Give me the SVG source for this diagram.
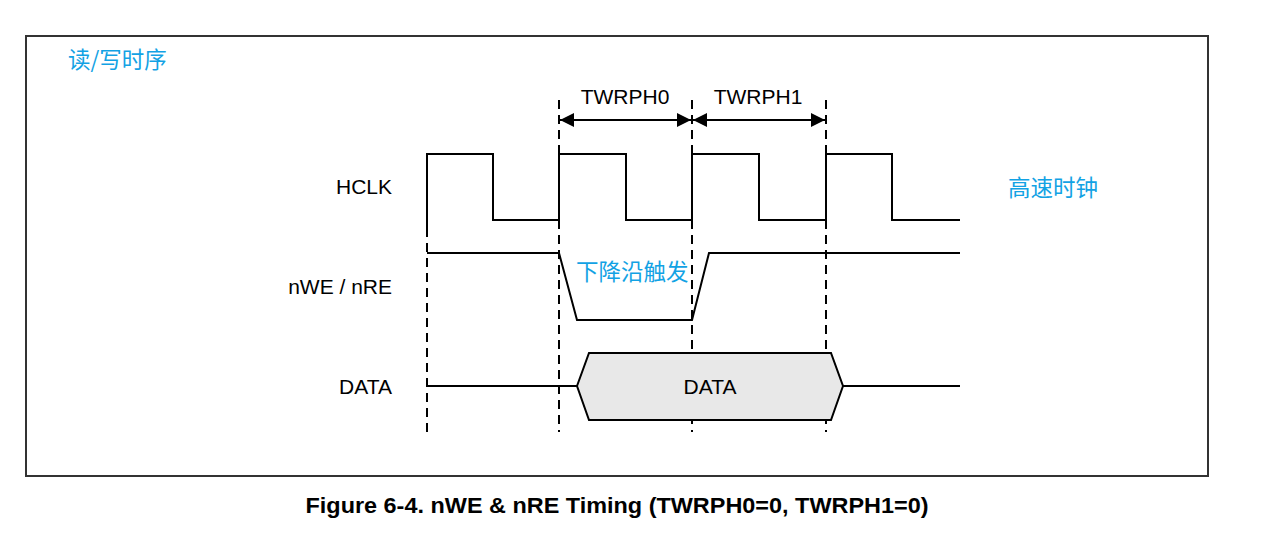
<svg xmlns="http://www.w3.org/2000/svg" width="1266" height="540" viewBox="0 0 1266 540">
<style>
.sig{fill:none;stroke:#000;stroke-width:2;stroke-linejoin:miter}
.dash{fill:none;stroke:#000;stroke-width:2;stroke-dasharray:9,6}
.lbl{font-family:"Liberation Sans",Arial,sans-serif;font-size:21px;fill:#000}
.cn{font-family:"Noto Sans CJK SC","Liberation Sans",sans-serif;font-size:22.5px;fill:#12a2e4}
.cap{font-family:"Liberation Sans",Arial,sans-serif;font-size:22px;font-weight:bold;fill:#000}
</style>
<defs>
<marker id="ah2" viewBox="0 0 14 14" markerWidth="14" markerHeight="14" refX="14" refY="7" orient="auto-start-reverse" markerUnits="userSpaceOnUse">
<path d="M0,0 L14,7 L0,14 Z" fill="#000"/>
</marker>
</defs>
<rect x="0" y="0" width="1266" height="540" fill="#fff"/>
<rect id="frame" x="26" y="36" width="1182" height="440" fill="none" stroke="#333" stroke-width="2"/>
<g id="title"><text class="cn" x="68" y="68">读/写时序</text></g>
<g id="labels">
<text class="lbl" x="392" y="194" text-anchor="end">HCLK</text>
<text class="lbl" x="392" y="294" text-anchor="end">nWE / nRE</text>
<text class="lbl" x="392" y="394" text-anchor="end">DATA</text>
<text class="lbl" x="625" y="104" text-anchor="middle">TWRPH0</text>
<text class="lbl" x="758" y="104" text-anchor="middle">TWRPH1</text>
</g>
<g id="connectors">
<path class="dash" d="M427,228 V432"/>
<path class="dash" d="M559,100 V432"/>
<path class="dash" d="M692,100 V432"/>
<path class="dash" d="M826,100 V432"/>
<line x1="560" y1="120" x2="691" y2="120" stroke="#000" stroke-width="2" marker-start="url(#ah2)" marker-end="url(#ah2)"/>
<line x1="693" y1="120" x2="825" y2="120" stroke="#000" stroke-width="2" marker-start="url(#ah2)" marker-end="url(#ah2)"/>
</g>
<g id="hclk"><path class="sig" d="M427,228 V154 H493 V220 H559 V154 H626 V220 H692 V154 H759 V220 H826 V154 H892 V220 H960"/></g>
<g id="hclk-note"><text class="cn" x="1008" y="196">高速时钟</text></g>
<g id="nwe"><path class="sig" d="M427,253 H559 L577,320 H692 L709,253 H960"/></g>
<g id="nwe-note"><text class="cn" x="576" y="280">下降沿触发</text></g>
<g id="data">
<path class="sig" d="M427,386 H577 M843,386 H960"/>
<path d="M577,386 L589,353 H831 L843,386 L831,420 H589 Z" fill="#e8e8e8" stroke="#000" stroke-width="2"/>
<text class="lbl" x="710" y="394" text-anchor="middle">DATA</text>
</g>
<g id="caption"><text class="cap" x="617" y="513" text-anchor="middle" textLength="623" lengthAdjust="spacingAndGlyphs">Figure 6-4. nWE &amp; nRE Timing (TWRPH0=0, TWRPH1=0)</text></g>
</svg>
